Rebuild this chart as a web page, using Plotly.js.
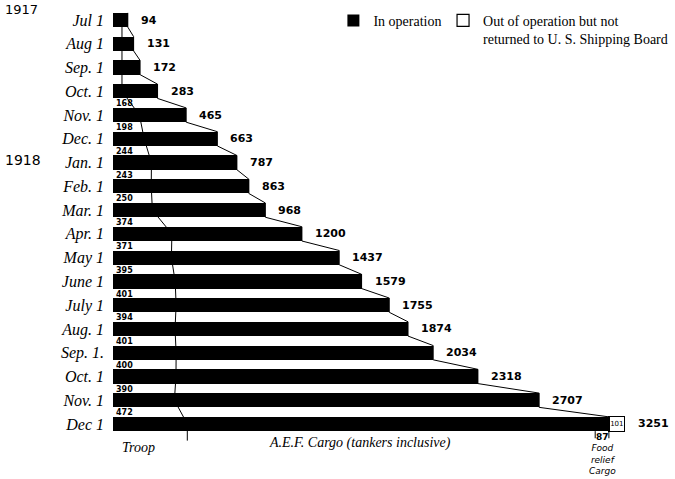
<!DOCTYPE html>
<html>
<head>
<meta charset="utf-8">
<script src="https://cdn.plot.ly/plotly-3.0.1.min.js"></script>
<style>html,body{margin:0;padding:0;background:#fff;}#chart{width:675px;height:479px;}</style>
</head>
<body>
<div id="chart"></div>
<script>
// ---- data ----
const months = ['Jul 1','Aug 1','Sep. 1','Oct. 1','Nov. 1','Dec. 1','Jan. 1','Feb. 1','Mar. 1','Apr. 1','May 1','June 1','July 1','Aug. 1','Sep. 1.','Oct. 1','Nov. 1','Dec 1'];
const totals = [94,131,172,283,465,663,787,863,968,1200,1437,1579,1755,1874,2034,2318,2707,3251];
const outOfOperation = [0,0,0,0,0,0,0,0,0,0,0,0,0,0,0,0,0,101];
const troop = [57,57,57,57,168,198,244,243,250,374,371,395,401,394,401,400,390,472];
const troopLabels = ['','','','','168','198','244','243','250','374','371','395','401','394','401','400','390','472'];
const foodRelief = 87;   // Dec 1 1918
const yearLabels = ['1917', '1918'];

// ---- derived ----
const idx = months.map((_, i) => i);
const inOperation = totals.map((t, i) => t - outOfOperation[i]);
const last = totals.length - 1;
const half = 0.3;

const endX = [], endY = [];
inOperation.forEach((v, i) => { endX.push(v, v); endY.push(i - half, i + half); });

const numFont = {family: 'DejaVu Sans', size: 11, color: '#000', weight: 'bold'};
const handFont = {family: 'Liberation Serif', size: 16, color: '#000', style: 'italic'};

const annotations = [];
totals.forEach((t, i) => {
  annotations.push({x: t, y: i, xref: 'x', yref: 'y', text: String(t), showarrow: false,
    xanchor: 'left', yanchor: 'middle', xshift: 11, font: numFont});
});
troopLabels.forEach((lab, i) => {
  if (!lab) return;
  annotations.push({x: 0, y: i - 0.47, xref: 'x', yref: 'y', text: lab, showarrow: false,
    xanchor: 'left', yanchor: 'middle', xshift: 1,
    font: {family: 'DejaVu Sans', size: 8, color: '#000', weight: 'bold'}});
});
// year markers
annotations.push({x: -0.2, xref: 'paper', y: 1, yref: 'paper', text: yearLabels[0], showarrow: false,
  xanchor: 'left', yanchor: 'top', font: {family: 'DejaVu Sans', size: 13, color: '#000'}});
annotations.push({x: -0.2, xref: 'paper', y: 5.9, yref: 'y', text: yearLabels[1], showarrow: false,
  xanchor: 'left', yanchor: 'middle', font: {family: 'DejaVu Sans', size: 14, color: '#000'}});
// bottom captions
annotations.push({x: 0, y: last + 0.98, xref: 'x', yref: 'y', text: 'Troop', showarrow: false,
  xanchor: 'left', yanchor: 'middle', xshift: 7,
  font: {family: 'Liberation Serif', size: 14, color: '#000', style: 'italic'}});
annotations.push({x: troop[last], y: last + 0.8, xref: 'x', yref: 'y',
  text: 'A.E.F. Cargo (tankers inclusive)', showarrow: false,
  xanchor: 'left', yanchor: 'middle', xshift: 80,
  font: {family: 'Liberation Serif', size: 14, color: '#000', style: 'italic'}});
annotations.push({x: inOperation[last] - foodRelief / 2, y: last + 0.56, xref: 'x', yref: 'y',
  text: String(foodRelief), showarrow: false, xanchor: 'center', yanchor: 'middle',
  font: {family: 'DejaVu Sans', size: 9, color: '#000', weight: 'bold'}});
annotations.push({x: inOperation[last] - foodRelief / 2, y: last + 0.7, xref: 'x', yref: 'y',
  text: 'Food<br>relief<br>Cargo', showarrow: false, xanchor: 'center', yanchor: 'top',
  font: {family: 'DejaVu Sans', size: 9, color: '#000', style: 'italic'}});

const shapes = [
  {type: 'line', xref: 'x', yref: 'y', x0: troop[last], x1: troop[last], y0: last, y1: last + 0.7,
   line: {color: '#000', width: 1}},
  {type: 'line', xref: 'x', yref: 'y', x0: inOperation[last] - foodRelief, x1: inOperation[last] - foodRelief,
   y0: last + half, y1: last + 0.6, line: {color: '#000', width: 1}},
  {type: 'line', xref: 'x', yref: 'y', x0: inOperation[last], x1: inOperation[last],
   y0: last + half, y1: last + 0.6, line: {color: '#000', width: 1}}
];

const traces = [
  {type: 'bar', orientation: 'h', name: 'In operation', x: inOperation, y: idx, width: 2 * half,
   marker: {color: '#000', line: {width: 0}}, hoverinfo: 'skip', legend: 'legend'},
  {type: 'bar', orientation: 'h', name: 'Out of operation but not<br>returned to U. S. Shipping Board',
   x: outOfOperation.map(v => v || null), y: idx, width: 2 * half,
   marker: {color: '#fff', line: {color: '#000', width: 1.2}},
   text: outOfOperation.map(v => v ? String(v) : ''), textposition: 'inside', insidetextanchor: 'middle',
   constraintext: 'none', textfont: {family: 'DejaVu Sans', size: 7, color: '#000'}, hoverinfo: 'skip',
   legend: 'legend2'},
  {type: 'scatter', mode: 'lines', x: troop, y: idx, line: {color: '#000', width: 1},
   showlegend: false, hoverinfo: 'skip'},
  {type: 'scatter', mode: 'lines', x: endX, y: endY, line: {color: '#000', width: 1},
   showlegend: false, hoverinfo: 'skip'}
];

const legendFont = {family: 'Liberation Serif', size: 14, color: '#000'};
const layout = {
  width: 675, height: 479,
  margin: {l: 113, r: 11, t: 0, b: 0},
  paper_bgcolor: '#fff', plot_bgcolor: '#fff',
  barmode: 'stack',
  showlegend: true,
  legend: {orientation: 'v', x: 0.40, y: 0.99, xanchor: 'left', yanchor: 'top',
    valign: 'top', bgcolor: 'rgba(0,0,0,0)', font: legendFont},
  legend2: {orientation: 'v', x: 0.599, y: 0.99, xanchor: 'left', yanchor: 'top',
    valign: 'top', bgcolor: 'rgba(0,0,0,0)', font: legendFont},
  xaxis: {range: [0, 3500], showgrid: false, zeroline: false, showticklabels: false, showline: false, fixedrange: true},
  yaxis: {range: [19.315, -0.842], tickvals: idx, ticktext: months, showgrid: false, zeroline: false,
    showline: false, ticks: '', ticklabelstandoff: 8, tickfont: handFont, fixedrange: true},
  annotations: annotations,
  shapes: shapes
};

Plotly.newPlot('chart', traces, layout, {staticPlot: true, displayModeBar: false});
</script>
</body>
</html>
